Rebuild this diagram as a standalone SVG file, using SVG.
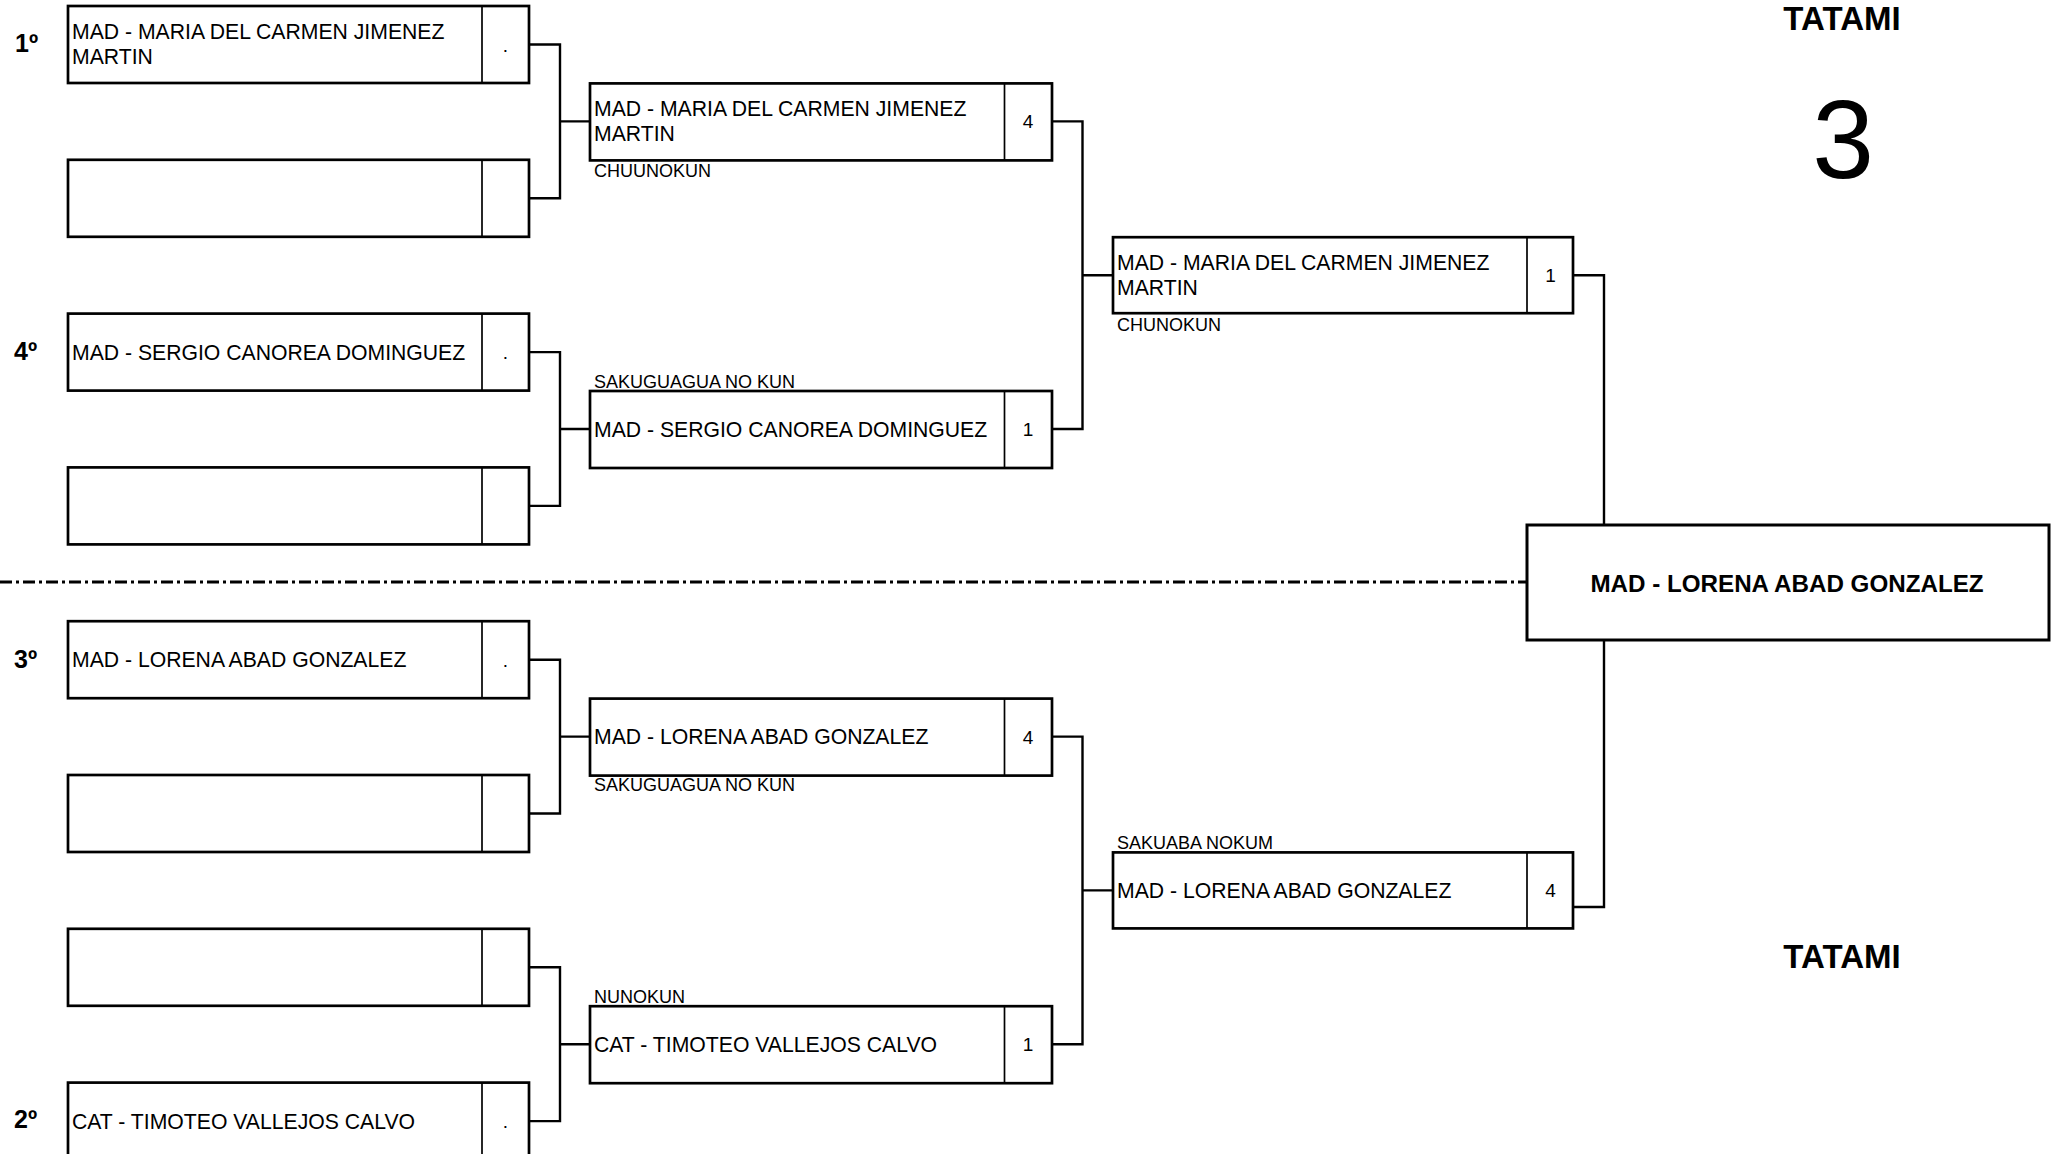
<svg xmlns="http://www.w3.org/2000/svg" width="2053" height="1154" viewBox="0 0 2053 1154">
<style>
.box{fill:#fff;stroke:#000;stroke-width:2.7}
.div{stroke:#000;stroke-width:1.7}
.con{fill:none;stroke:#000;stroke-width:2.4}
.nm{font-family:"Liberation Sans",Arial,sans-serif;font-size:21.2px;fill:#000}
.sc{font-family:"Liberation Sans",Arial,sans-serif;font-size:19px;fill:#000;text-anchor:middle}
.lb{font-family:"Liberation Sans",Arial,sans-serif;font-size:18px;fill:#000}
.seed{font-family:"Liberation Sans",Arial,sans-serif;font-size:25px;font-weight:bold;fill:#000}
.fin{font-family:"Liberation Sans",Arial,sans-serif;font-size:24.2px;font-weight:bold;fill:#000;text-anchor:middle}
.tt{font-family:"Liberation Sans",Arial,sans-serif;font-size:33px;font-weight:bold;fill:#000;text-anchor:middle}
.big{font-family:"Liberation Sans",Arial,sans-serif;font-size:111px;fill:#000;text-anchor:middle}
</style>
<rect width="2053" height="1154" fill="#fff"/>

<g id="connectors">
<path class="con" d="M529,44.5 H560 V198.3 H529 M560,121.4 H590"/>
<path class="con" d="M529,352.1 H560 V505.9 H529 M560,429 H590"/>
<path class="con" d="M529,659.7 H560 V813.5 H529 M560,736.6 H590"/>
<path class="con" d="M529,967.3 H560 V1121.1 H529 M560,1044.2 H590"/>
<path class="con" d="M1052,121.4 H1082.5 V429 H1052 M1082.5,275.2 H1113"/>
<path class="con" d="M1052,736.6 H1082.5 V1044.2 H1052 M1082.5,890.4 H1113"/>
<path class="con" d="M1573,275.2 H1604 V525"/>
<path class="con" d="M1573,907 H1604 V640"/>
<line x1="0" y1="582" x2="1527" y2="582" stroke="#000" stroke-width="3" stroke-dasharray="12 4 3 4"/>
</g>

<!-- Round 1 -->
<g id="r1-1">
<rect class="box" x="68" y="6" width="461" height="77"/><line class="div" x1="482" y1="6" x2="482" y2="83"/>
<text class="seed" x="15" y="52">1º</text>
<text class="nm" x="72" y="38.5">MAD - MARIA DEL CARMEN JIMENEZ</text>
<text class="nm" x="72" y="63.5">MARTIN</text>
<text class="sc" x="505.5" y="51.5">.</text>
</g>
<g id="r1-2">
<rect class="box" x="68" y="159.8" width="461" height="77"/><line class="div" x1="482" y1="159.8" x2="482" y2="236.8"/>
</g>
<g id="r1-3">
<rect class="box" x="68" y="313.6" width="461" height="77"/><line class="div" x1="482" y1="313.6" x2="482" y2="390.6"/>
<text class="seed" x="14" y="360">4º</text>
<text class="nm" x="72" y="359.6">MAD - SERGIO CANOREA DOMINGUEZ</text>
<text class="sc" x="505.5" y="359">.</text>
</g>
<g id="r1-4">
<rect class="box" x="68" y="467.4" width="461" height="77"/><line class="div" x1="482" y1="467.4" x2="482" y2="544.4"/>
</g>
<g id="r1-5">
<rect class="box" x="68" y="621.2" width="461" height="77"/><line class="div" x1="482" y1="621.2" x2="482" y2="698.2"/>
<text class="seed" x="14" y="668">3º</text>
<text class="nm" x="72" y="667.2">MAD - LORENA ABAD GONZALEZ</text>
<text class="sc" x="505.5" y="666.7">.</text>
</g>
<g id="r1-6">
<rect class="box" x="68" y="775" width="461" height="77"/><line class="div" x1="482" y1="775" x2="482" y2="852"/>
</g>
<g id="r1-7">
<rect class="box" x="68" y="928.8" width="461" height="77"/><line class="div" x1="482" y1="928.8" x2="482" y2="1005.8"/>
</g>
<g id="r1-8">
<rect class="box" x="68" y="1082.6" width="461" height="77"/><line class="div" x1="482" y1="1082.6" x2="482" y2="1159.6"/>
<text class="seed" x="14" y="1128">2º</text>
<text class="nm" x="72" y="1128.6">CAT - TIMOTEO VALLEJOS CALVO</text>
<text class="sc" x="505.5" y="1128">.</text>
</g>

<!-- Round 2 -->
<g id="r2-1">
<rect class="box" x="590" y="83.4" width="462" height="77"/><line class="div" x1="1004.5" y1="83.4" x2="1004.5" y2="160.4"/>
<text class="nm" x="594" y="115.6">MAD - MARIA DEL CARMEN JIMENEZ</text>
<text class="nm" x="594" y="141">MARTIN</text>
<text class="sc" x="1028" y="128.4">4</text>
<text class="lb" x="594" y="177">CHUUNOKUN</text>
</g>
<g id="r2-2">
<rect class="box" x="590" y="391" width="462" height="77"/><line class="div" x1="1004.5" y1="391" x2="1004.5" y2="468"/>
<text class="lb" x="594" y="387.5">SAKUGUAGUA NO KUN</text>
<text class="nm" x="594" y="436.5">MAD - SERGIO CANOREA DOMINGUEZ</text>
<text class="sc" x="1028" y="436">1</text>
</g>
<g id="r2-3">
<rect class="box" x="590" y="698.6" width="462" height="77"/><line class="div" x1="1004.5" y1="698.6" x2="1004.5" y2="775.6"/>
<text class="nm" x="594" y="744.1">MAD - LORENA ABAD GONZALEZ</text>
<text class="sc" x="1028" y="743.6">4</text>
<text class="lb" x="594" y="791">SAKUGUAGUA NO KUN</text>
</g>
<g id="r2-4">
<rect class="box" x="590" y="1006.2" width="462" height="77"/><line class="div" x1="1004.5" y1="1006.2" x2="1004.5" y2="1083.2"/>
<text class="lb" x="594" y="1002.7">NUNOKUN</text>
<text class="nm" x="594" y="1051.7">CAT - TIMOTEO VALLEJOS CALVO</text>
<text class="sc" x="1028" y="1051.2">1</text>
</g>

<!-- Round 3 -->
<g id="r3-1">
<rect class="box" x="1113" y="237.2" width="460" height="76"/><line class="div" x1="1527" y1="237.2" x2="1527" y2="313.2"/>
<text class="nm" x="1117" y="269.5">MAD - MARIA DEL CARMEN JIMENEZ</text>
<text class="nm" x="1117" y="295">MARTIN</text>
<text class="sc" x="1550.5" y="282">1</text>
<text class="lb" x="1117" y="330.5">CHUNOKUN</text>
</g>
<g id="r3-2">
<rect class="box" x="1113" y="852.4" width="460" height="76"/><line class="div" x1="1527" y1="852.4" x2="1527" y2="928.4"/>
<text class="lb" x="1117" y="848.5">SAKUABA NOKUM</text>
<text class="nm" x="1117" y="897.9">MAD - LORENA ABAD GONZALEZ</text>
<text class="sc" x="1550.5" y="897.4">4</text>
</g>

<!-- Final -->
<g id="final">
<rect x="1527" y="525" width="522" height="115" fill="#fff" stroke="#000" stroke-width="3"/>
<text class="fin" x="1787" y="591.5">MAD - LORENA ABAD GONZALEZ</text>
</g>

<g id="tatami-top">
<text class="tt" x="1842" y="30">TATAMI</text>
<text class="big" x="1843" y="178">3</text>
</g>
<g id="tatami-bottom">
<text class="tt" x="1842" y="968">TATAMI</text>
</g>
</svg>
